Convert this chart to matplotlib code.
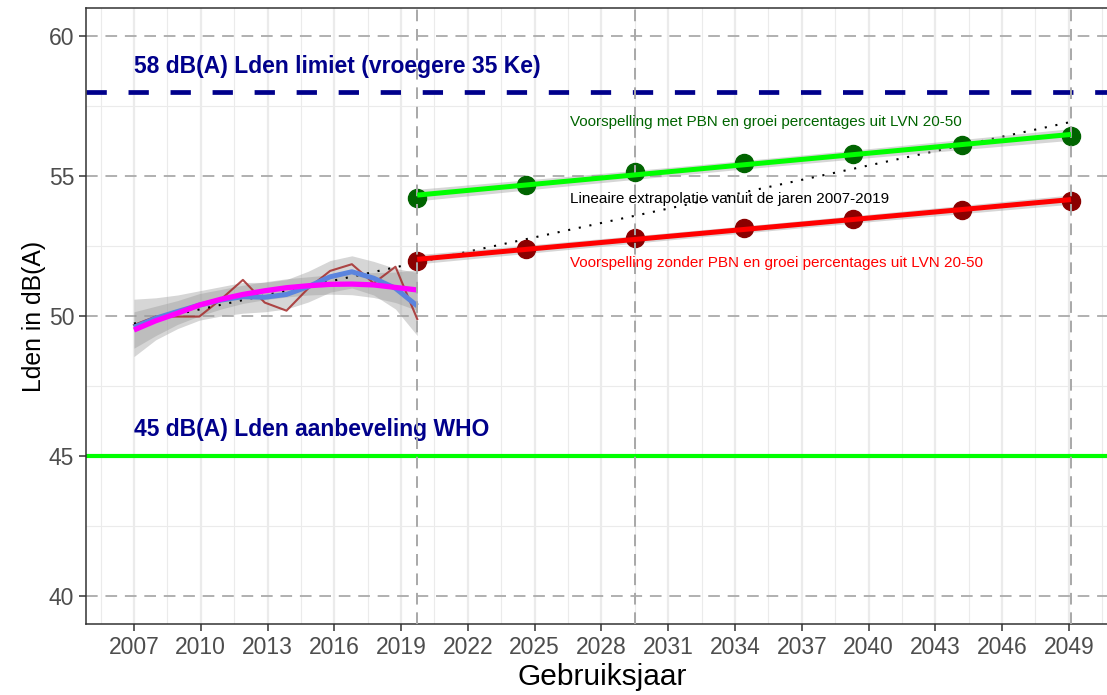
import numpy as np
import matplotlib.pyplot as plt

plt.rcParams['font.family'] = ['Liberation Sans', 'DejaVu Sans']

# historic Lden values 2007-2020
hist_years = np.arange(2007, 2021)
hist_lden = [49.68, 49.98, 49.98, 49.98, 50.60, 51.29, 50.48,
             50.19, 50.99, 51.61, 51.85, 51.17, 51.76, 49.89]

# loess smooth (blue) with confidence band
loess_fit = [49.60, 49.92, 50.16, 50.39, 50.57, 50.69, 50.67,
             50.77, 51.05, 51.40, 51.58, 51.35, 50.99, 50.36]
loess_lo = [48.55, 49.15, 49.55, 49.85, 50.00, 50.10, 50.15,
            50.25, 50.50, 50.85, 51.00, 50.75, 50.25, 49.30]
loess_hi = [50.60, 50.65, 50.75, 50.90, 51.05, 51.20, 51.20,
            51.30, 51.60, 51.98, 52.15, 51.95, 51.70, 51.55]

# smooth trend (magenta) with confidence band
trend_fit = [49.50, 49.83, 50.10, 50.39, 50.60, 50.77, 50.90,
             51.01, 51.08, 51.13, 51.14, 51.11, 51.02, 50.93]
trend_lo = [48.85, 49.30, 49.70, 50.00, 50.25, 50.45, 50.58,
            50.68, 50.75, 50.78, 50.76, 50.66, 50.48, 50.20]
trend_hi = [50.15, 50.35, 50.55, 50.80, 50.95, 51.10, 51.22,
            51.33, 51.40, 51.47, 51.52, 51.55, 51.57, 51.65]

# forecasts
fc_years = np.array([2020, 2025, 2030, 2035, 2040, 2045, 2050])
fc_met_pbn = np.array([54.22, 54.68, 55.14, 55.46, 55.78, 56.10, 56.43])
fc_zonder_pbn = np.array([51.96, 52.38, 52.79, 53.14, 53.46, 53.80, 54.11])

x_tick_labels = ['2007', '2010', '2013', '2016', '2019', '2022', '2025', '2028',
                 '2031', '2034', '2037', '2040', '2043', '2046', '2049']
y_ticks = [40, 45, 50, 55, 60]


def lm_band(x, y, xs):
    x = np.asarray(x, float)
    y = np.asarray(y, float)
    coef = np.polyfit(x, y, 1)
    fit = np.polyval(coef, xs)
    resid = y - np.polyval(coef, x)
    n = len(x)
    s = np.sqrt(np.sum(resid ** 2) / (n - 2))
    se = s * np.sqrt(1 / n + (xs - x.mean()) ** 2 / np.sum((x - x.mean()) ** 2))
    return fit, fit - 2.571 * se, fit + 2.571 * se


fig = plt.figure(figsize=(11.07, 6.95), dpi=100)
ax = fig.add_axes([86 / 1107, 1 - 624 / 695, (1119 - 86) / 1107, 616 / 695])
ax.set_xlim(2004.8, 2052.2)
ax.set_ylim(39, 61)

# grid
tick_pos = np.linspace(2007, 2049.9, 15)
step = tick_pos[1] - tick_pos[0]
for xp in tick_pos:
    ax.axvline(xp, color='#EBEBEB', lw=1.6, zorder=0)
for xp in np.concatenate([[tick_pos[0] - step / 2], tick_pos + step / 2]):
    ax.axvline(xp, color='#EBEBEB', lw=0.8, zorder=0)
for yp in [42.5, 47.5, 52.5, 57.5]:
    ax.axhline(yp, color='#EBEBEB', lw=0.8, zorder=0)
for yp in y_ticks:
    ax.axhline(yp, color='#B0B0B0', lw=1.4, dashes=(6, 4), zorder=1)

# reference lines
ax.axhline(58, color='#00008B', lw=3.4, dashes=(4.3, 4.6), zorder=2)
ax.axhline(45, color='#00FF00', lw=3.0, zorder=2)
ax.text(2007, 58.9, '58 dB(A) Lden limiet (vroegere 35 Ke)', color='#00008B',
        fontsize=16.5, fontweight='bold', ha='left', va='center')
ax.text(2007, 45.93, '45 dB(A) Lden aanbeveling WHO', color='#00008B',
        fontsize=16.5, fontweight='bold', ha='left', va='center')

# historic data and smooths
ax.fill_between(hist_years, loess_lo, loess_hi, color='#999999', alpha=0.4, lw=0, zorder=3)
ax.fill_between(hist_years, trend_lo, trend_hi, color='#999999', alpha=0.4, lw=0, zorder=3)
ax.plot(hist_years, hist_lden, color='#A52A2A', lw=1.5, alpha=0.85, zorder=4)

# linear extrapolation 2007-2019
lin_x = np.linspace(2007, 2050, 100)
coef = np.polyfit(hist_years[:-1], hist_lden[:-1], 1)
ax.plot(lin_x, np.polyval(coef, lin_x), color='black', lw=1.5, dashes=(1, 4.2), zorder=5)

ax.plot(hist_years, loess_fit, color='#5B84DE', lw=3.6, zorder=6, solid_capstyle='butt')
ax.plot(hist_years, trend_fit, color='#FF00FF', lw=3.8, zorder=6, solid_capstyle='butt')

# forecasts
xs = np.linspace(2020, 2050, 100)
for vals, pcol, lcol in [(fc_met_pbn, '#006400', '#00FF00'),
                         (fc_zonder_pbn, '#8B0000', '#FF0000')]:
    fit, lo, hi = lm_band(fc_years, vals, xs)
    ax.fill_between(xs, lo - 0.08, hi + 0.08, color='#999999', alpha=0.4, lw=0, zorder=6)
    ax.plot(fc_years, vals, 'o', color=pcol, ms=13, zorder=7)
    ax.plot(xs, fit, color=lcol, lw=3.6, zorder=9, solid_capstyle='butt')

for xv in [2020, 2030, 2050]:
    ax.axvline(xv, color='#A8A8A8', lw=1.4, dashes=(6, 4), zorder=8)

ax.text(2027, 56.93, 'Voorspelling met PBN en groei percentages uit LVN 20-50',
        color='#006400', fontsize=11, ha='left', va='center', zorder=10)
ax.text(2027, 54.18, 'Lineaire extrapolatie vanuit de jaren 2007-2019',
        color='black', fontsize=11, ha='left', va='center', zorder=10)
ax.text(2027, 51.89, 'Voorspelling zonder PBN en groei percentages uit LVN 20-50',
        color='#FF0000', fontsize=11, ha='left', va='center', zorder=10)

ax.set_xticks(tick_pos)
ax.set_xticklabels(x_tick_labels)
ax.set_yticks(y_ticks)
ax.tick_params(labelsize=16.5, labelcolor='#4D4D4D', color='#333333', length=5, width=1.1)
ax.set_xlabel('Gebruiksjaar', fontsize=21.5, labelpad=3)
ax.set_ylabel('Lden in dB(A)', fontsize=17.8, labelpad=2)
for sp in ax.spines.values():
    sp.set_color('#333333')
    sp.set_linewidth(1.1)

fig.savefig('out.png', dpi=100)
